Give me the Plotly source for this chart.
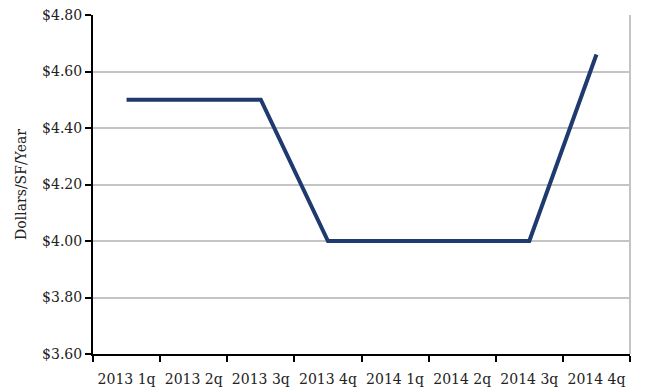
import plotly.graph_objects as go

quarters = ["2013 1q", "2013 2q", "2013 3q", "2013 4q",
            "2014 1q", "2014 2q", "2014 3q", "2014 4q"]
rent = [4.50, 4.50, 4.50, 4.00, 4.00, 4.00, 4.00, 4.66]
y_ticks = [3.60, 3.80, 4.00, 4.20, 4.40, 4.60, 4.80]
y_labels = ["$3.60", "$3.80", "$4.00", "$4.20", "$4.40", "$4.60", "$4.80"]

fig = go.Figure()
fig.add_trace(go.Scatter(
    x=quarters, y=rent, mode="lines",
    line=dict(color="#1F3A6E", width=4),
    hoverinfo="x+y",
))

serif = "DejaVu Serif"
fig.update_layout(
    width=651, height=390,
    margin=dict(l=93, r=21, t=15, b=36),
    paper_bgcolor="white", plot_bgcolor="white",
    showlegend=False,
    font=dict(family=serif, color="#222222", size=14),
    xaxis=dict(
        type="category",
        range=[-0.5, 7.5],
        tickson="boundaries",
        tickangle=0,
        automargin=False,
        ticks="outside", ticklen=6, tickwidth=2, tickcolor="black",
        showline=True, linecolor="black", linewidth=2,
        showgrid=False, zeroline=False,
        tickfont=dict(family=serif, size=14),
        ticklabelstandoff=11,
    ),
    yaxis=dict(
        range=[3.60, 4.80],
        automargin=False,
        tickvals=y_ticks, ticktext=y_labels,
        ticks="outside", ticklen=6, tickwidth=2, tickcolor="black",
        showline=True, linecolor="black", linewidth=2,
        showgrid=True, gridcolor="#C4C4C4", gridwidth=2,
        zeroline=False,
        tickfont=dict(family=serif, size=14),
        title=dict(text="Dollars/SF/Year",
                   font=dict(family=serif, size=14), standoff=12),
    ),
    shapes=[dict(type="line", xref="paper", yref="paper",
                 x0=1, x1=1, y0=0, y1=1,
                 line=dict(color="#C4C4C4", width=2), layer="below")],
)

fig.write_html("out.html")
